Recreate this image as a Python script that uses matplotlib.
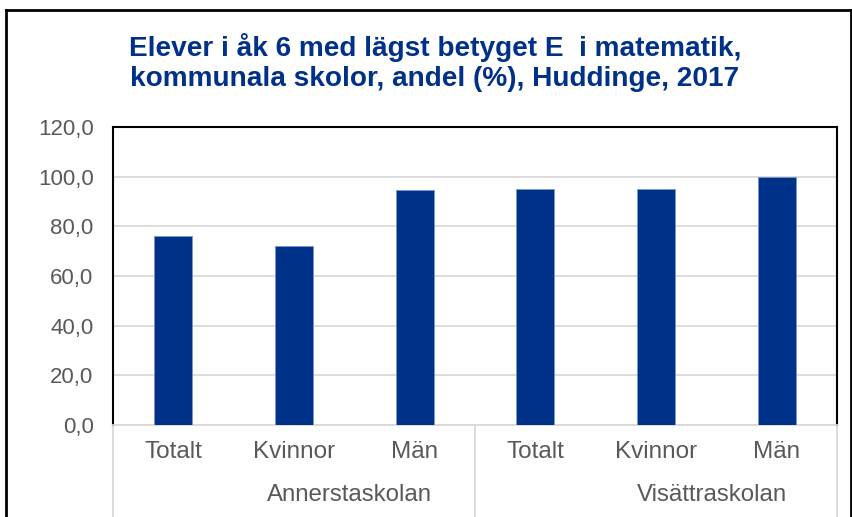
import matplotlib
matplotlib.use("Agg")
import matplotlib.pyplot as plt
from matplotlib.lines import Line2D

categories = ["Totalt", "Kvinnor", "Män", "Totalt", "Kvinnor", "Män"]
schools = ["Annerstaskolan", "Visättraskolan"]
values = [76.3, 72.2, 94.8, 95.0, 95.0, 100.0]
yticks = [0, 20, 40, 60, 80, 100, 120]
ytick_labels = ["0,0", "20,0", "40,0", "60,0", "80,0", "100,0", "120,0"]
title = "Elever i åk 6 med lägst betyget E  i matematik,\nkommunala skolor, andel (%), Huddinge, 2017"

plt.rcParams['font.family'] = ['Liberation Sans', 'DejaVu Sans']

W, H = 853, 517
fig = plt.figure(figsize=(W / 100, H / 100), dpi=100)
ax = fig.add_axes([113 / W, 1 - 425 / H, (837 - 113) / W, (425 - 127) / H])

bar_col = "#003189"
x = list(range(len(values)))
ax.bar(x, values, width=0.315, color=bar_col, edgecolor="#7b96cc", linewidth=0.6, zorder=3)
ax.set_xlim(-0.5, len(values) - 0.5)
ax.set_ylim(0, 120)
ax.set_yticks(yticks)
ax.set_yticklabels(ytick_labels, fontsize=16, color="#595959")
ax.tick_params(axis='y', length=0, pad=14)
ax.yaxis.grid(True, color="#d9d9d9", linewidth=1.3, zorder=0)
ax.set_axisbelow(True)

ax.set_xticks([])
for s in ["top", "left", "right"]:
    ax.spines[s].set_color("black")
    ax.spines[s].set_linewidth(1.5)
ax.spines["bottom"].set_color("#d9d9d9")
ax.spines["bottom"].set_linewidth(1.3)

trans = ax.get_xaxis_transform()
for i, c in enumerate(categories):
    ax.text(i, -0.09, c, transform=trans, ha="center", va="center",
            fontsize=17.5, color="#595959")
for g, s in enumerate(schools):
    ax.text(g * 3 + 1.46, -0.235, s, transform=trans, ha="center", va="center",
            fontsize=17.3, color="#595959")
ybot = -(H - 425) / (425 - 127)
for xb in [-0.5, 2.5, 5.5]:
    ax.add_line(Line2D([xb, xb], [0, ybot], transform=trans, color="#d9d9d9",
                       linewidth=1.3, clip_on=False))

fig.text(0.51, 1 - 62 / H, title, ha="center", va="center", fontsize=20.2,
         fontweight="bold", color=bar_col, linespacing=1.2)

# outer border
bx0, bx1, by = 6 / W, 851 / W, 1 - 10 / H
for xs, ys in [([bx0, bx1], [by, by]), ([bx0, bx0], [by, 0]), ([bx1, bx1], [by, 0])]:
    fig.add_artist(Line2D(xs, ys, transform=fig.transFigure, color="black", linewidth=2))

fig.savefig("out.png", dpi=100)
